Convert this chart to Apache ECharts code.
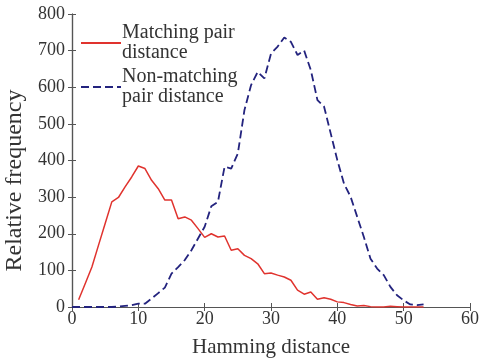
<!DOCTYPE html>
<html lang="en">
<head>
    <meta charset="UTF-8" />
    <title>Hamming distance</title>
    <script src="https://cdn.jsdelivr.net/npm/echarts@6/dist/echarts.min.js"></script>
    <style>
        body { margin: 0; background: #fff; }
        #main { width: 481px; height: 360px; }
    </style>
</head>
<body>
    <div id="main"></div>
    <script>
        // hamming distance on x
        const distances = [0, 1, 2, 3, 4, 5, 6, 7, 8, 9, 10, 11, 12, 13, 14, 15, 16, 17, 18, 19, 20,
            21, 22, 23, 24, 25, 26, 27, 28, 29, 30, 31, 32, 33, 34, 35, 36, 37, 38, 39, 40,
            41, 42, 43, 44, 45, 46, 47, 48, 49, 50, 51, 52, 53];
        // matching pairs (starts at distance 1)
        const matching = [null, 20, 64, 109, 169, 228, 287, 299, 328, 355, 385, 378, 346, 323, 292, 292, 241, 246, 237, 214, 190,
            200, 191, 194, 155, 159, 141, 132, 118, 91, 93, 87, 82, 73, 46, 35, 41, 21, 25, 21, 14,
            12, 7, 3, 4, 1, 0, 0, 2, 1, 0, 0, 0, 0];
        const nonMatching = [0, 0, 0, 0, 0, 0, 0, 1, 3, 5, 9, 9, 23, 38, 53, 91, 109, 128, 155, 187, 219,
            275, 287, 383, 378, 419, 538, 606, 642, 624, 692, 711, 736, 724, 688, 700, 647, 565, 547, 474, 401,
            337, 301, 246, 191, 132, 105, 87, 55, 32, 18, 7, 5, 7];

        const xTicks = [0, 10, 20, 30, 40, 50, 60];
        const yTicks = [0, 100, 200, 300, 400, 500, 600, 700, 800];

        const font = 'Liberation Serif';
        const axisColor = '#555';

        function pairs(vals) {
            return distances.map((d, i) => [d, vals[i]]).filter(p => p[1] !== null);
        }

        var myChart = echarts.init(document.getElementById('main'));

        const boxAxis = {
            axisLine: { show: true, lineStyle: { color: axisColor, width: 1.2 } },
            axisTick: { show: true, inside: true, length: 4, lineStyle: { color: axisColor } },
            splitLine: { show: false }
        };

        const legendText = { fontFamily: font, fontSize: 20, color: '#333', lineHeight: 20, padding: [20, 0, 0, -4] };

        var option = {
            animation: false,
            grid: { left: 72, right: 11, top: 14, bottom: 53, outerBoundsMode: 'none', containLabel: false },
            legend: [
                {
                    data: ['Matching pair\ndistance'],
                    left: 80, top: 13, padding: 0,
                    itemWidth: 40, itemHeight: 10,
                    itemStyle: { color: 'transparent', borderWidth: 0 },
                    textStyle: legendText
                },
                {
                    data: ['Non-matching\npair distance'],
                    left: 80, top: 57, padding: 0,
                    itemWidth: 40, itemHeight: 10,
                    itemStyle: { color: 'transparent', borderWidth: 0 },
                    textStyle: legendText
                }
            ],
            xAxis: [
                Object.assign({}, boxAxis, {
                    type: 'value', min: 0, max: 60, interval: 10,
                    name: 'Hamming distance', nameLocation: 'middle', nameGap: 30,
                    nameTextStyle: { fontFamily: font, fontSize: 21, color: '#333' },
                    axisLabel: {
                        margin: 3, fontFamily: font, fontSize: 18, color: '#333',
                        formatter: v => xTicks.includes(v) ? String(v) : ''
                    }
                }),
                Object.assign({}, boxAxis, {
                    type: 'value', min: 0, max: 60, interval: 10, position: 'top',
                    axisLabel: { show: false }
                })
            ],
            yAxis: [
                Object.assign({}, boxAxis, {
                    type: 'value', min: 0, max: 800, interval: 100,
                    name: 'Relative frequency', nameLocation: 'middle', nameGap: 44,
                    nameTextStyle: { fontFamily: font, fontSize: 24, color: '#333', padding: [0, 40, 0, 0] },
                    axisLabel: {
                        margin: 7, fontFamily: font, fontSize: 18, color: '#333',
                        formatter: v => yTicks.includes(v) ? String(v) : ''
                    }
                }),
                Object.assign({}, boxAxis, {
                    type: 'value', min: 0, max: 800, interval: 100, position: 'right',
                    axisLabel: { show: false }
                })
            ],
            series: [
                {
                    name: 'Matching pair\ndistance',
                    type: 'line',
                    data: pairs(matching),
                    symbol: 'none',
                    lineStyle: { color: '#e0332e', width: 1.5 },
                    itemStyle: { color: '#e0332e' }
                },
                {
                    name: 'Non-matching\npair distance',
                    type: 'line',
                    data: pairs(nonMatching),
                    symbol: 'none',
                    lineStyle: { color: '#23237e', width: 1.8, type: [8, 4] },
                    itemStyle: { color: '#23237e' }
                }
            ]
        };

        myChart.setOption(option);
    </script>
</body>
</html>
